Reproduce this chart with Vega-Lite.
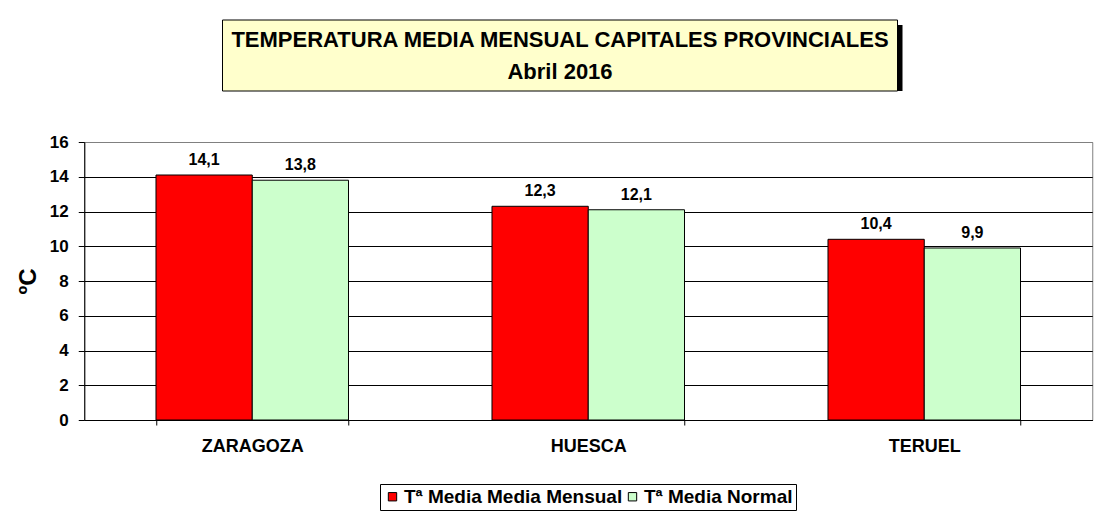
{
  "$schema": "https://vega.github.io/schema/vega-lite/v6.json",
  "padding": {"left": 15, "top": 19, "right": 17, "bottom": 8},
  "background": "white",
  "center": true,
  "spacing": 40,
  "config": {
    "font": "Liberation Sans",
    "locale": {"number": {"decimal": ",", "thousands": ".", "grouping": [3], "currency": ["", " €"]}}
  },
  "vconcat": [
    {
      "spacing": 0,
      "hconcat": [
        {
          "width": 675,
          "height": 71,
          "view": {"stroke": null},
          "data": {"values": [{"titulo": "TEMPERATURA MEDIA MENSUAL CAPITALES PROVINCIALES\nAbril 2016"}]},
          "layer": [
            {"mark": {"type": "rect", "color": "black", "xOffset": 5, "x2Offset": 5, "yOffset": 5, "y2Offset": 5}, "encoding": {}},
            {"mark": {"type": "rect", "fill": "#FFFFCC", "stroke": "black", "strokeWidth": 1}, "encoding": {}},
            {
              "mark": {"type": "text", "fontSize": 22, "fontWeight": "bold", "lineBreak": "\n", "lineHeight": 32, "align": "center", "baseline": "middle", "dy": -16, "color": "black"},
              "encoding": {"text": {"field": "titulo", "type": "nominal"}}
            }
          ]
        },
        {
          "width": 52,
          "height": 71,
          "view": {"stroke": null},
          "data": {"values": []},
          "mark": "point",
          "encoding": {}
        }
      ]
    },
    {
      "width": 1008,
      "height": 278,
      "view": {"stroke": "#808080", "strokeWidth": 1},
      "data": {
        "values": [
          {"ciudad": "ZARAGOZA", "serie": "Tª Media Media Mensual", "valor": 14.1},
          {"ciudad": "ZARAGOZA", "serie": "Tª Media Normal", "valor": 13.8},
          {"ciudad": "HUESCA", "serie": "Tª Media Media Mensual", "valor": 12.3},
          {"ciudad": "HUESCA", "serie": "Tª Media Normal", "valor": 12.1},
          {"ciudad": "TERUEL", "serie": "Tª Media Media Mensual", "valor": 10.4},
          {"ciudad": "TERUEL", "serie": "Tª Media Normal", "valor": 9.9}
        ]
      },
      "encoding": {
        "x": {
          "field": "ciudad",
          "type": "nominal",
          "sort": ["ZARAGOZA", "HUESCA", "TERUEL"],
          "scale": {"paddingInner": 0.427, "paddingOuter": 0.2135},
          "axis": {
            "title": null,
            "labelAngle": 0,
            "labelFontSize": 18,
            "labelFontWeight": "bold",
            "labelColor": "black",
            "labelPadding": 12,
            "tickBand": "extent",
            "tickSize": 5,
            "tickColor": "black",
            "domainColor": "black",
            "grid": false
          }
        },
        "xOffset": {"field": "serie", "type": "nominal", "sort": ["Tª Media Media Mensual", "Tª Media Normal"]},
        "y": {
          "field": "valor",
          "type": "quantitative",
          "scale": {"domain": [0, 16], "nice": false},
          "axis": {
            "values": [0, 2, 4, 6, 8, 10, 12, 14, 16],
            "title": "ºC",
            "titleFontSize": 24,
            "titleFontWeight": "bold",
            "titleColor": "black",
            "titlePadding": 9,
            "labelFontSize": 17,
            "labelFontWeight": "bold",
            "labelColor": "black",
            "labelPadding": 10,
            "labelOverlap": false,
            "tickSize": 6,
            "tickColor": "black",
            "domainColor": "black",
            "grid": true,
            "gridColor": {"condition": {"test": "datum.value === 16", "value": "#808080"}, "value": "#000000"},
            "gridOpacity": 1
          }
        }
      },
      "layer": [
        {
          "mark": {"type": "bar", "stroke": "black", "strokeWidth": 1},
          "encoding": {
            "color": {
              "field": "serie",
              "type": "nominal",
              "sort": ["Tª Media Media Mensual", "Tª Media Normal"],
              "scale": {"domain": ["Tª Media Media Mensual", "Tª Media Normal"], "range": ["#FF0000", "#CCFFCC"]},
              "legend": {
                "orient": "none",
                "legendX": 296,
                "legendY": 464,
                "direction": "horizontal",
                "title": null,
                "fillColor": "white",
                "strokeColor": "black",
                "padding": 3,
                "symbolType": "square",
                "symbolSize": 70,
                "symbolStrokeColor": "black",
                "symbolStrokeWidth": 1,
                "symbolOpacity": 1,
                "labelFontSize": 19,
                "labelFontWeight": "bold",
                "labelColor": "black",
                "labelOffset": 2,
                "labelLimit": 400,
                "columnPadding": 0
              }
            }
          }
        },
        {
          "mark": {"type": "text", "fontSize": 16, "fontWeight": "bold", "baseline": "alphabetic", "dy": -10, "color": "black"},
          "encoding": {"text": {"field": "valor", "type": "quantitative", "format": ".1f"}}
        }
      ]
    }
  ]
}
